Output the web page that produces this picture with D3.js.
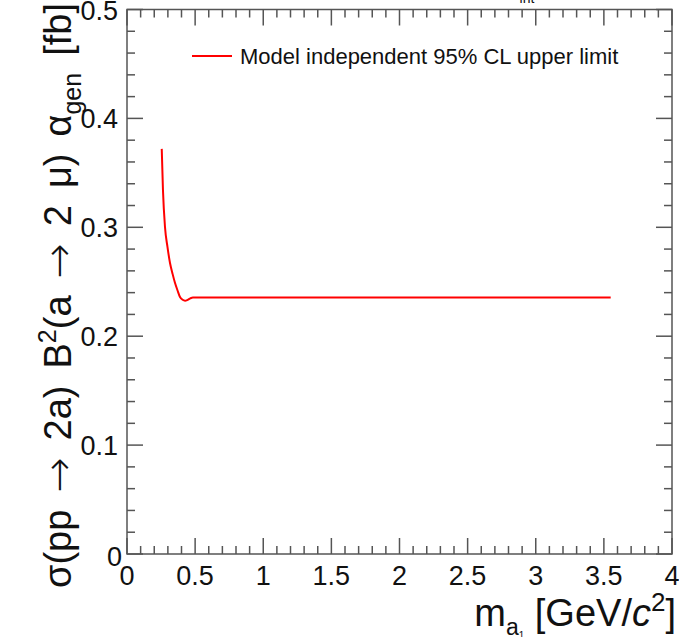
<!DOCTYPE html>
<html lang="en">
<head>
  <meta charset="UTF-8">
  <title>upper-limit</title>
  <script type="text/javascript" src="https://cdn.jsdelivr.net/npm/d3@7/dist/d3.min.js"></script>
  <style>
    body { margin: 0; background: #fff; }
    text { font-family: "Liberation Sans", Arial, sans-serif; }
  </style>
</head>
<body>
<div id="chart"></div>
<script type="text/javascript">
    // limit curve: mass [GeV] and limit [fb]
    let massVals = [0.255, 0.264, 0.279, 0.297, 0.316, 0.335, 0.352, 0.371, 0.389, 0.408,
        0.426, 0.445, 0.465, 0.484, 0.6, 1.0, 1.5, 2.0, 2.5, 3.0, 3.55];
    let limitVals = [0.372, 0.334, 0.300, 0.282, 0.267, 0.257, 0.249, 0.242, 0.236, 0.2335,
        0.2326, 0.2334, 0.2348, 0.2355, 0.2355, 0.2355, 0.2355, 0.2355, 0.2355, 0.2355, 0.2355];
    let xTicks = [0, 0.5, 1, 1.5, 2, 2.5, 3, 3.5, 4];
    let yTicks = [0, 0.1, 0.2, 0.3, 0.4, 0.5];
    let legendLabel = "Model independent 95% CL upper limit";

    let width = 679, height = 637;
    let frameL = 127, frameR = 672, frameT = 9.5, frameB = 554;

    let svg = d3.select("#chart").append("svg")
        .attr("width", width).attr("height", height);

    let x = d3.scaleLinear().domain([0, 4]).range([frameL, frameR]);
    let y = d3.scaleLinear().domain([0, 0.5]).range([frameB, frameT]);

    let axisColor = "#555";

    // frame
    svg.append("rect").attr("x", frameL).attr("y", frameT)
        .attr("width", frameR - frameL).attr("height", frameB - frameT)
        .attr("fill", "none").attr("stroke", axisColor).attr("stroke-width", 1.5);

    // ticks on all four sides, pointing inward
    let xMinor = d3.range(0, 41).map(d => d / 10);
    let yMinor = d3.range(0, 26).map(d => d / 50);
    let isMajorX = d => Math.abs(d * 2 - Math.round(d * 2)) < 1e-6;
    let isMajorY = d => Math.abs(d * 10 - Math.round(d * 10)) < 1e-6;

    let ticks = svg.append("g").attr("stroke", axisColor).attr("stroke-width", 1.5);
    xMinor.forEach(function (d) {
        let len = isMajorX(d) ? 16 : 8;
        ticks.append("line").attr("x1", x(d)).attr("x2", x(d)).attr("y1", frameB).attr("y2", frameB - len);
        ticks.append("line").attr("x1", x(d)).attr("x2", x(d)).attr("y1", frameT).attr("y2", frameT + len);
    });
    yMinor.forEach(function (d) {
        let len = isMajorY(d) ? 16 : 8;
        ticks.append("line").attr("y1", y(d)).attr("y2", y(d)).attr("x1", frameL).attr("x2", frameL + len);
        ticks.append("line").attr("y1", y(d)).attr("y2", y(d)).attr("x1", frameR).attr("x2", frameR - len);
    });

    // tick labels
    svg.append("g").selectAll("text").data(xTicks).enter().append("text")
        .attr("x", d => x(d)).attr("y", 585)
        .attr("text-anchor", "middle").attr("font-size", 27).attr("fill", "#111")
        .text(d => d3.format("~g")(d));
    svg.append("g").selectAll("text").data(yTicks).enter().append("text")
        .attr("x", d => d === 0 ? 122 : 118).attr("y", d => y(d) + (d === 0 ? 12 : 10))
        .attr("text-anchor", "end").attr("font-size", 27).attr("fill", "#111")
        .text(d => d3.format("~g")(d));

    // helper for rich text: [string, dy, size, italic, family, gap]
    let richText = function (node, parts) {
        parts.forEach(function (p) {
            let t = node.append("tspan").text(p[0]);
            if (p[1]) t.attr("dy", p[1]);
            if (p[2]) t.attr("font-size", p[2]);
            if (p[3]) t.attr("font-style", "italic");
            if (p[4]) t.style("font-family", p[4]).attr("font-weight", 200);
            if (p[5]) t.classed("gap", true);
        });
    };

    // y title
    let fs = 38, sup = 25, arrowFs = 42, arrowFont = "DejaVu Sans";
    let yTitle = svg.append("text")
        .attr("transform", "translate(71,3) rotate(-90)")
        .attr("text-anchor", "end").attr("font-size", fs).attr("fill", "#111");
    richText(yTitle, [
        ["σ(pp"], [" ", 0, 0, false, null, true], ["→", 2, arrowFs, false, arrowFont],
        [" ", -2, fs, false, null, true], ["2a)"], [" ", 0, 0, false, null, true], ["B"],
        ["2", -15, sup], ["(a", 15, fs], [" ", 0, 0, false, null, true], ["→", 2, arrowFs, false, arrowFont],
        [" ", -2, fs, false, null, true], ["2"], [" ", 0, 0, false, null, true], ["μ)"],
        [" ", 0, 0, false, null, true], ["α"],
        ["gen", 10, sup], [" ", -10, fs, false, null, true], ["[fb]"]
    ]);
    // spread the word gaps so the title spans the same height as the reference
    let titleLen = yTitle.node().getBBox().width;
    let gaps = yTitle.selectAll("tspan.gap");
    let extra = Math.max(0, (585 - titleLen) / gaps.size());
    gaps.attr("dx", extra);

    // x title
    let xTitle = svg.append("text")
        .attr("x", 676).attr("y", 626)
        .attr("text-anchor", "end").attr("font-size", 38).attr("fill", "#111");
    richText(xTitle, [
        ["m"], ["a", 9, 23], ["1", 4, 10], [" [GeV/", -13, 38], ["c", 0, 38, true], ["2", -15, 26], ["]", 15, 38]
    ]);

    // clipped label above the frame
    svg.append("text").attr("x", 527).attr("y", 3).attr("text-anchor", "middle")
        .attr("font-size", 14).attr("fill", "#111").text("int");

    // limit curve
    let pts = massVals.map((m, i) => [m, limitVals[i]]);
    let line = d3.line().x(d => x(d[0])).y(d => y(d[1])).curve(d3.curveMonotoneX);
    svg.append("path").datum(pts).attr("d", line)
        .attr("fill", "none").attr("stroke", "#ff0000").attr("stroke-width", 2);

    // legend
    svg.append("line").attr("x1", 192).attr("x2", 232).attr("y1", 56).attr("y2", 56)
        .attr("stroke", "#ff0000").attr("stroke-width", 2);
    svg.append("text").attr("x", 240).attr("y", 64).attr("font-size", 22).attr("fill", "#111")
        .text(legendLabel);
</script>
</body>
</html>
